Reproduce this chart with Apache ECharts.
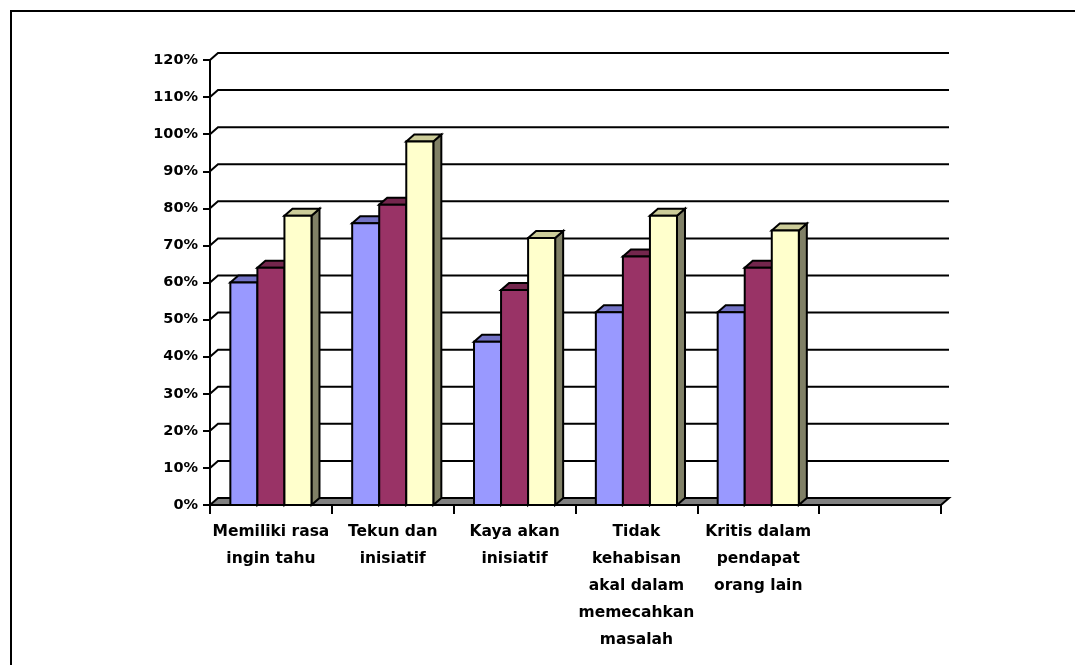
<!DOCTYPE html>
<html>
<head>
<meta charset="utf-8">
<script src="https://cdn.jsdelivr.net/npm/echarts@6/dist/echarts.min.js"></script>
<style>
html,body{margin:0;padding:0;background:#fff;}
#chart{width:1075px;height:665px;}
</style>
</head>
<body>
<div id="chart"></div>
<script>
// ---- data ----
const categories = [
  "Memiliki rasa\ningin tahu",
  "Tekun dan\ninisiatif",
  "Kaya akan\ninisiatif",
  "Tidak\nkehabisan\nakal dalam\nmemecahkan\nmasalah",
  "Kritis dalam\npendapat\norang lain",
  ""
];
const seriesA = [60, 76, 44, 52, 52];
const seriesB = [64, 81, 58, 67, 64];
const seriesC = [78, 98, 72, 78, 74];
const yTicks = [0, 10, 20, 30, 40, 50, 60, 70, 80, 90, 100, 110, 120];

// ---- style ----
const DX = 8, DY = 7;
const FONT = "DejaVu Sans";
const palette = [
  {front: "#9999FF", top: "#7373C6", side: "#7373C6"},
  {front: "#993366", top: "#74264D", side: "#74264D"},
  {front: "#FFFFCC", top: "#CCCC99", side: "#808066"}
];

function wallItem(params, api) {
  const cs = params.coordSys;
  const y = api.coord([0, api.value(1)])[1];
  const x0 = cs.x, x1 = cs.x + cs.width;
  const children = [];
  if (api.value(1) === 0) {
    children.push({
      type: "polygon",
      shape: {points: [[x0, y], [x1, y], [x1 + DX, y - DY], [x0 + DX, y - DY]]},
      style: {fill: "#808080", stroke: "#000", lineWidth: 2, lineJoin: "miter"}
    });
  } else {
    children.push({
      type: "polyline",
      shape: {points: [[x0, y], [x0 + DX, y - DY], [x1 + DX, y - DY]]},
      style: {fill: null, stroke: "#000", lineWidth: 2}
    });
  }
  return {type: "group", children: children};
}

function barRenderer(k) {
  const c = palette[k];
  return function (params, api) {
    const idx = api.value(0), v = api.value(1);
    const base = api.coord([idx, 0]);
    const top = api.coord([idx, v]);
    const w = api.size([1, 0])[0];
    const bw = w * 0.222;
    const xl = base[0] - 1.5 * bw + k * bw;
    const xr = xl + bw;
    const yt = top[1], yb = base[1];
    const st = {stroke: "#000", lineWidth: 2, lineJoin: "miter"};
    return {
      type: "group",
      children: [
        {type: "polygon", shape: {points: [[xr, yt], [xr + DX, yt - DY], [xr + DX, yb - DY], [xr, yb]]},
         style: Object.assign({fill: c.side}, st)},
        {type: "polygon", shape: {points: [[xl, yt], [xl + DX, yt - DY], [xr + DX, yt - DY], [xr, yt]]},
         style: Object.assign({fill: c.top}, st)},
        {type: "rect", shape: {x: xl, y: yt, width: bw, height: yb - yt},
         style: Object.assign({fill: c.front}, st)}
      ]
    };
  };
}

const chart = echarts.init(document.getElementById("chart"), null, {renderer: "canvas"});
const allSeries = [seriesA, seriesB, seriesC];
chart.setOption({
  animation: false,
  backgroundColor: "#fff",
  graphic: [{
    type: "rect", z: 100,
    shape: {x: 11, y: 11, width: 1100, height: 700},
    style: {fill: null, stroke: "#000", lineWidth: 2}
  }],
  grid: {left: 210, top: 60, right: 134, bottom: 160},
  xAxis: {
    type: "category",
    data: categories,
    boundaryGap: true,
    axisLine: {show: true, lineStyle: {color: "#000", width: 2}},
    axisTick: {show: true, length: 9, lineStyle: {color: "#000", width: 2}},
    axisLabel: {
      interval: 0, margin: 13, color: "#000",
      fontFamily: FONT, fontWeight: "bold", fontSize: 15.5, lineHeight: 27, align: "center"
    },
    splitLine: {show: false}
  },
  yAxis: {
    type: "value",
    min: 0, max: 120, interval: 10,
    axisLine: {show: true, lineStyle: {color: "#000", width: 2}},
    axisTick: {show: true, length: 7, lineStyle: {color: "#000", width: 2}},
    axisLabel: {
      margin: 12, color: "#000", formatter: "{value}%",
      fontFamily: FONT, fontWeight: "bold", fontSize: 14.5
    },
    splitLine: {show: false}
  },
  series: [
    {
      type: "custom", z: 1, clip: false, silent: true,
      renderItem: wallItem,
      data: yTicks.map(t => [0, t])
    }
  ].concat(allSeries.map((vals, k) => ({
    type: "custom", z: 2 + k, clip: false,
    renderItem: barRenderer(k),
    data: vals.map((v, i) => [i, v])
  })))
});
</script>
</body>
</html>
